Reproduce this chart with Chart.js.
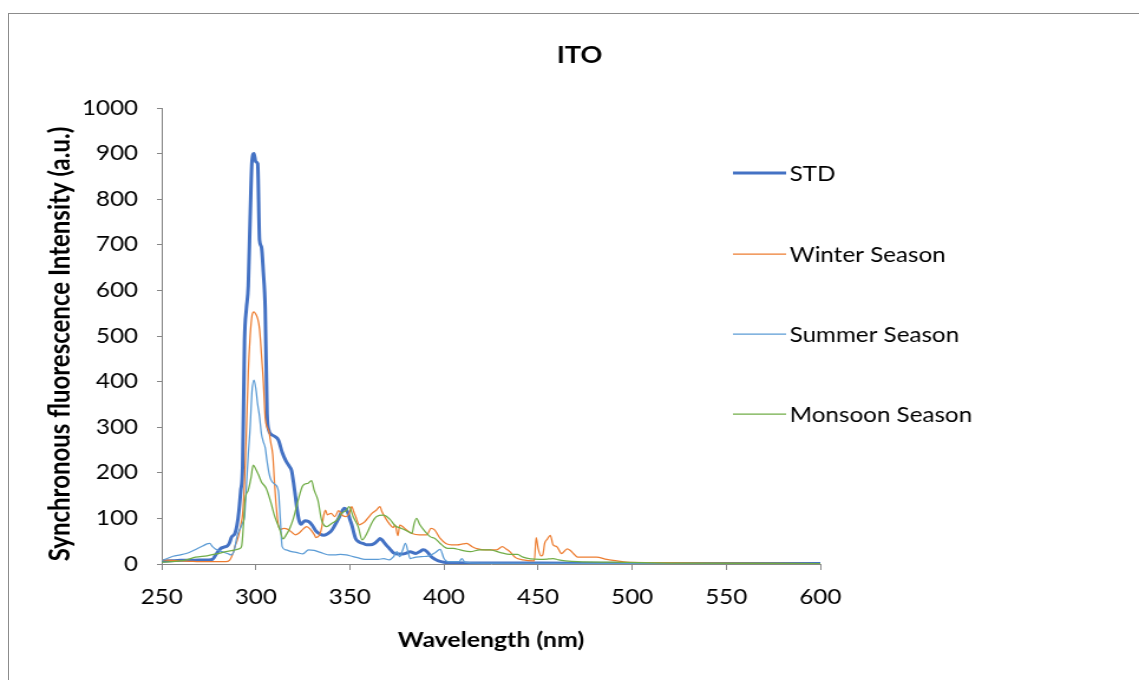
<!DOCTYPE html>
<html><head><meta charset="utf-8">
<script src="https://cdn.jsdelivr.net/npm/chart.js@4.4.0/dist/chart.umd.min.js"></script>
<style>
html,body{margin:0;padding:0;background:#fff;overflow:hidden;}
#wrap{position:relative;width:1139px;height:680px;overflow:hidden;}
#frame{position:absolute;left:8px;top:13px;width:1200px;height:720px;border:1px solid #8c8c8c;box-sizing:border-box;pointer-events:none;}
#stretch{position:absolute;left:0;top:0;width:965px;height:680px;transform:scaleX(1.18031);transform-origin:0 0;}
canvas{position:absolute;left:0;top:0;}
</style></head><body>
<div id="wrap"><div id="stretch"><canvas id="c" width="965" height="680"></canvas></div><div id="frame"></div></div>
<script>
const chartTitle = "ITO";
const xTitle = "Wavelength (nm)";
const yTitle = "Synchronous fluorescence Intensity (a.u.)";
const seriesNames = ["STD", "Winter Season", "Summer Season", "Monsoon Season"];
const xTicks = [250, 300, 350, 400, 450, 500, 550, 600];
const yTicks = [0, 100, 200, 300, 400, 500, 600, 700, 800, 900, 1000];

const stdWl  = [250,255,260,265,270,275,277,279,281,283,285,286,287,289,290,291,292,293,294,295,296,297,298,299,300,301,302,303,304,305,306,307,308,310,312,314,316,318,319,320,321,322,323,324,326,328,330,332,334,336,338,340,342,344,346,347,348,349,350,351,352,353,355,357,359,361,363,365,366,367,369,371,373,375,378,380,382,385,387,389,391,393,395,397,400,405,420,450,500,600];
const stdVal = [6,7,8,8,9,9,10,22,33,37,40,46,58,68,85,115,160,215,490,560,610,760,885,900,882,878,710,695,640,560,330,292,285,280,272,245,226,213,205,180,150,118,95,87,95,93,85,72,66,63,66,72,85,100,117,122,120,112,98,86,70,56,48,45,42,42,45,52,56,53,43,34,25,22,22,24,27,23,27,31,27,17,11,7,4,3,2,2,1,1];

const winWl  = [250,255,260,265,270,275,280,284,286,288,289,290,291,292,293,294,295,296,297,298,299,300,301,302,303,304,305,306,307,308,309,310,311,312,313,315,317,319,321,323,325,327,329,331,332,334,335,336,337,338,340,342,344,346,348,349.5,351,352,353,355,357,358,360,362,364,366,367,369,371,373,374,375.5,376.5,378,380,383,387,391,393,395,398,401,404,407,410,412,415,418,422,428,431,433,435,438,442,448,449,450,451.5,452.5,453.5,455,456.5,458,460,462.5,465.5,467,469,471,476,481,486.5,492,497,510,540,600];
const winVal = [9,8,7,6,5,5,5,5,8,25,40,50,65,85,110,180,290,420,500,545,553,548,538,515,460,400,320,300,290,265,240,175,120,85,76,78,76,70,64,68,76,82,76,65,58,65,80,105,118,108,111,104,117,107,104,110,126,115,105,86,90,93,103,112,118,126,115,100,88,80,86,62,85,82,75,67,64,64,78,75,56,45,42,42,44,45,38,33,31,31,38,33,27,14,9,7,58,35,18,20,45,55,63,42,38,23,33,30,22,15,15,15,10,7,4,3,2,1];

const sumWl  = [250,253,256,260,263,266,269,272,274,275.5,277,278.5,282,285,287,288.5,290,291,292,293,294,295,296,297,298,299,300,301,302,303,304,305,306,307,308,310,312,313,314,316,319,322,325,328,331,333,336,339,342,345,348,351,354,358,362,365,368,371,373,375,376.5,378,379.5,381,382,384,388,392,395,398,400,402,408,409.5,411,420,500,600];
const sumVal = [8,12,17,20,23,28,34,40,44,45,38,33,27,23,20,30,60,72,80,90,104,170,240,300,380,403,385,350,323,285,268,255,225,200,185,175,160,100,38,31,27,25,22,31,30,27,23,20,20,21,20,17,14,10,10,10,12,9,15,27,16,30,45,25,12,14,16,18,24,32,12,5,5,12,4,2,1,1];

const monWl  = [250,255,260,263,268,274,279,284,289,291.5,292.5,293.5,294.3,296,297.5,298.6,300,301.5,303,305.5,308,310,312.8,314.5,316.3,318,320,322.5,325,327.8,329.6,331,333,335,337.7,340.3,343,345.6,348.2,349.6,351.7,354.4,356.5,359,361.5,364.2,367.7,371.3,374,377.5,381,383,384,385.4,387.2,390,392.6,395.2,398,400,402,405,408.5,414,419,424.5,430,435,439,442,446,451,455.5,458,461,464.5,471,490,520,600];
const monVal = [4,5,7,9,15,18,22,27,31,34,40,90,140,162,190,217,208,195,180,166,135,105,75,55,65,78,100,140,172,177,183,162,140,96,82,89,96,111,118,126,104,82,53,67,89,104,107,98,84,78,71,67,86,100,86,71,60,56,45,38,34,34,31,27,31,31,25,21,21,15,11,10,11,12,9,7,5,4,2,1];

const colors = ["#4472C4", "#ED7D31", "#5B9BD5", "#70AD47"];
const widths = [3, 1.25, 1.25, 1.25];
const wlArrays = [stdWl, winWl, sumWl, monWl];
const valArrays = [stdVal, winVal, sumVal, monVal];

const FONT = "Lato, 'Liberation Sans', sans-serif";

const datasets = seriesNames.map((name, i) => ({
  label: name,
  data: wlArrays[i].map((w, j) => ({x: w, y: valArrays[i][j]})),
  borderColor: colors[i],
  backgroundColor: colors[i],
  borderWidth: widths[i],
  pointRadius: 0,
  fill: false,
  cubicInterpolationMode: 'monotone',
  order: 4 - i
}));

const decor = {
  id: 'decor',
  afterDraw(chart) {
    const ctx = chart.ctx;
    ctx.save();
    ctx.fillStyle = '#000';
    ctx.font = "bold 23px " + FONT;
    ctx.textAlign = 'center';
    ctx.textBaseline = 'middle';
    ctx.fillText(chartTitle, 491, 56);
    ctx.save();
    ctx.translate(51, 344);
    ctx.rotate(-Math.PI / 2);
    ctx.font = "bold 24px " + FONT;
    ctx.fillText(yTitle, 0, 0);
    ctx.restore();
    const ys = [173, 254, 334, 414];
    ctx.font = "20.5px " + FONT;
    ctx.textAlign = 'left';
    chart.data.datasets.forEach((ds, i) => {
      ctx.strokeStyle = ds.borderColor;
      ctx.lineWidth = ds.borderWidth;
      ctx.beginPath();
      ctx.moveTo(621, ys[i]);
      ctx.lineTo(666, ys[i]);
      ctx.stroke();
      ctx.fillStyle = '#000';
      ctx.fillText(ds.label, 669, ys[i] + 1);
    });
    ctx.restore();
  }
};

new Chart(document.getElementById('c'), {
  type: 'line',
  data: { datasets },
  options: {
    responsive: false,
    animation: false,
    events: [],
    layout: { padding: { left: 0, top: 108, right: 270, bottom: 0 } },
    plugins: { legend: { display: false }, title: { display: false }, tooltip: { enabled: false } },
    scales: {
      x: {
        type: 'linear', min: 250, max: 600,
        afterBuildTicks(s) { s.ticks = xTicks.map(v => ({value: v})); },
        afterFit(s) { s.height = 116; },
        grid: { drawOnChartArea: false, drawTicks: true, tickLength: 6, color: '#868686' },
        border: { display: true, color: '#868686', width: 1 },
        ticks: { color: '#000', font: { family: FONT, size: 20.5 }, padding: 15, maxRotation: 0, callback: v => String(v) },
        title: { display: true, text: xTitle, color: '#000', font: { family: FONT, size: 21, weight: 'bold' }, padding: { top: 0, bottom: 27 } }
      },
      y: {
        type: 'linear', min: 0, max: 1000,
        afterBuildTicks(s) { s.ticks = yTicks.map(v => ({value: v})); },
        afterFit(s) { s.width = 137; },
        grid: { drawOnChartArea: false, drawTicks: true, tickLength: 4, color: '#868686' },
        border: { display: true, color: '#868686', width: 1 },
        ticks: { color: '#000', font: { family: FONT, size: 20.5 }, padding: 16, callback: v => String(v) }
      }
    }
  },
  plugins: [decor]
});
</script>
</body></html>
